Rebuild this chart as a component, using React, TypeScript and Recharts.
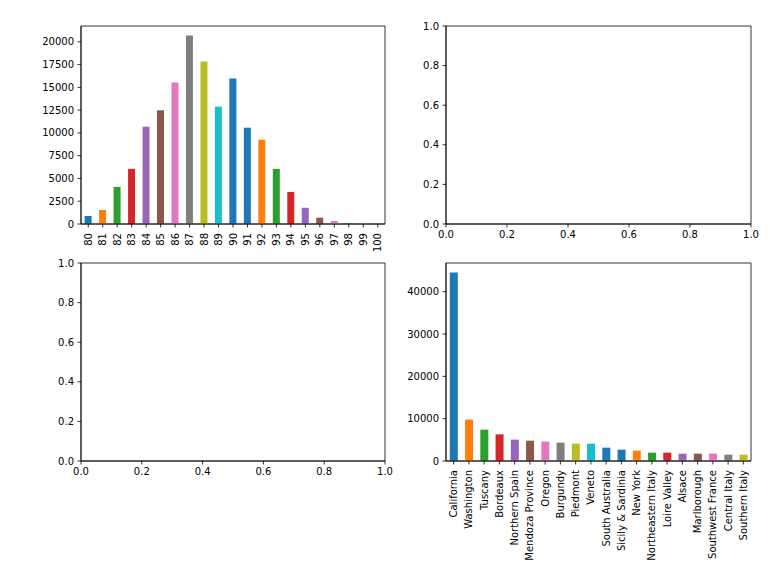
import { Bar, BarChart, Cell, ComposedChart, ReferenceArea, XAxis, YAxis } from "recharts";

const points = ["80", "81", "82", "83", "84", "85", "86", "87", "88", "89", "90", "91", "92", "93", "94", "95", "96", "97", "98", "99", "100"];
const pointCounts = [880, 1540, 4070, 6050, 10680, 12480, 15520, 20700, 17840, 12880, 15960, 10570, 9250, 6050, 3520, 1780, 690, 330, 110, 60, 25];
const pointTicks = [0, 2500, 5000, 7500, 10000, 12500, 15000, 17500, 20000];

const provinces = [
  "California", "Washington", "Tuscany", "Bordeaux", "Northern Spain", "Mendoza Province", "Oregon",
  "Burgundy", "Piedmont", "Veneto", "South Australia", "Sicily & Sardinia", "New York",
  "Northeastern Italy", "Loire Valley", "Alsace", "Marlborough", "Southwest France", "Central Italy", "Southern Italy",
];
const provinceCounts = [44550, 9780, 7400, 6300, 5050, 4800, 4580, 4340, 4100, 4100, 3150, 2680, 2450, 1970, 1970, 1740, 1740, 1740, 1500, 1500];
const provinceTicks = [0, 10000, 20000, 30000, 40000];

const unitTicks = [0, 0.2, 0.4, 0.6, 0.8, 1.0];

// pandas cycle (the 11th bar repeats blue)
const tab10 = ["#1f77b4", "#ff7f0e", "#2ca02c", "#d62728", "#9467bd", "#8c564b", "#e377c2", "#7f7f7f", "#bcbd22", "#17becf"];
const barColor = (i: number) => (i <= 10 ? tab10[i % 10] : tab10[(i - 1) % 10]);

const FONT = "DejaVu Sans";
const tickStyle = { fill: "#000", fontSize: 10, fontFamily: FONT };
const axisLine = { stroke: "#000", strokeWidth: 0.8 };

const pointData = points.map((p, i) => ({ name: p, count: pointCounts[i] }));
const provinceData = provinces.map((p, i) => ({ name: p, count: provinceCounts[i] }));

function VerticalTick({ x, y, payload }: any) {
  return (
    <text
      x={x}
      y={y}
      transform={`rotate(-90, ${x}, ${y})`}
      textAnchor="end"
      dominantBaseline="central"
      fontSize={10}
      fontFamily={FONT}
      fill="#000"
    >
      {payload.value}
    </text>
  );
}

function CountBars({ data, ticks, margin, height, width, xHeight, yWidth }: any) {
  const max = Math.max(...data.map((d: any) => d.count)) * 1.05;
  return (
    <BarChart width={width} height={height} data={data} margin={margin} barCategoryGap="25%">
      <XAxis
        dataKey="name"
        interval={0}
        height={xHeight}
        tick={<VerticalTick />}
        tickSize={3.5}
        tickMargin={5.5}
        tickLine={axisLine}
        axisLine={axisLine}
      />
      <YAxis
        domain={[0, max]}
        ticks={ticks}
        width={yWidth}
        tick={tickStyle}
        tickSize={3.5}
        tickMargin={3.5}
        tickLine={axisLine}
        axisLine={axisLine}
      />
      <Bar dataKey="count" isAnimationActive={false}>
        {data.map((_: any, i: number) => (
          <Cell key={i} fill={barColor(i)} />
        ))}
      </Bar>
      <ReferenceArea y1={0} y2={max} fill="none" stroke="#000" strokeWidth={0.8} ifOverflow="visible" />
    </BarChart>
  );
}

function EmptyAxes({ margin, height, width, xHeight, yWidth }: any) {
  return (
    <ComposedChart width={width} height={height} data={[]} margin={margin}>
      <XAxis
        type="number"
        dataKey="x"
        domain={[0, 1]}
        allowDataOverflow
        ticks={unitTicks}
        tickFormatter={(v: number) => v.toFixed(1)}
        height={xHeight}
        tick={tickStyle}
        tickSize={3.5}
        tickMargin={3.5}
        tickLine={axisLine}
        axisLine={axisLine}
      />
      <YAxis
        type="number"
        dataKey="y"
        domain={[0, 1]}
        allowDataOverflow
        ticks={unitTicks}
        tickFormatter={(v: number) => v.toFixed(1)}
        width={yWidth}
        tick={tickStyle}
        tickSize={3.5}
        tickMargin={3.5}
        tickLine={axisLine}
        axisLine={axisLine}
      />
      <ReferenceArea x1={0} x2={1} y1={0} y2={1} fill="none" stroke="#000" strokeWidth={0.8} ifOverflow="visible" />
    </ComposedChart>
  );
}

export default function App() {
  return (
    <div style={{ position: "relative", width: 774, height: 574, background: "#fff", fontFamily: FONT }}>
      <style>{"body{margin:0;}"}</style>
      <div style={{ position: "absolute", left: 0, top: 0 }}>
        <CountBars data={pointData} ticks={pointTicks} width={400} height={260} xHeight={36} yWidth={81} margin={{ top: 26, right: 15, bottom: 0, left: 0 }} />
      </div>
      <div style={{ position: "absolute", left: 387, top: 0 }}>
        <EmptyAxes width={387} height={260} xHeight={36} yWidth={59} margin={{ top: 26, right: 23, bottom: 0, left: 0 }} />
      </div>
      <div style={{ position: "absolute", left: 0, top: 240 }}>
        <EmptyAxes width={400} height={334} xHeight={113} yWidth={81} margin={{ top: 23, right: 15, bottom: 0, left: 0 }} />
      </div>
      <div style={{ position: "absolute", left: 387, top: 240 }}>
        <CountBars data={provinceData} ticks={provinceTicks} width={387} height={334} xHeight={113} yWidth={59} margin={{ top: 23, right: 23, bottom: 0, left: 0 }} />
      </div>
    </div>
  );
}
